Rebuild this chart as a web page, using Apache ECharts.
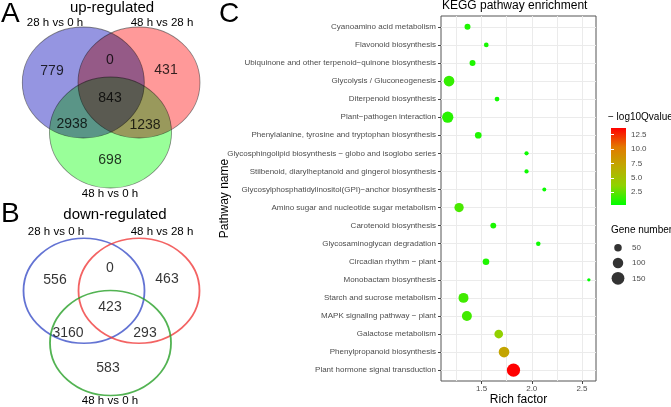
<!DOCTYPE html>
<html><head><meta charset="utf-8">
<script src="https://cdn.jsdelivr.net/npm/echarts@6/dist/echarts.min.js"></script>
<style>html,body{margin:0;padding:0;background:#fff}#c{width:671px;height:407px}</style>
</head><body><div id="c"></div>
<script>
// ---------------- Venn data ----------------
const vennSetNames = ['28 h vs 0 h', '48 h vs 28 h', '48 h vs 0 h'];
// region order: only A, only B, A∩B, A∩B∩C, A∩C, B∩C, only C
const upCounts   = [779, 431, 0, 843, 2938, 1238, 698];
const downCounts = [556, 463, 0, 423, 3160, 293, 583];

// ---------------- KEGG data ----------------
const pathways = [
  'Cyanoamino acid metabolism',
  'Flavonoid biosynthesis',
  'Ubiquinone and other terpenoid\u2212quinone biosynthesis',
  'Glycolysis / Gluconeogenesis',
  'Diterpenoid biosynthesis',
  'Plant\u2212pathogen interaction',
  'Phenylalanine, tyrosine and tryptophan biosynthesis',
  'Glycosphingolipid biosynthesis \u2212 globo and isoglobo series',
  'Stilbenoid, diarylheptanoid and gingerol biosynthesis',
  'Glycosylphosphatidylinositol(GPI)\u2212anchor biosynthesis',
  'Amino sugar and nucleotide sugar metabolism',
  'Carotenoid biosynthesis',
  'Glycosaminoglycan degradation',
  'Circadian rhythm \u2212 plant',
  'Monobactam biosynthesis',
  'Starch and sucrose metabolism',
  'MAPK signaling pathway \u2212 plant',
  'Galactose metabolism',
  'Phenylpropanoid biosynthesis',
  'Plant hormone signal transduction'
];
const richFactor = [1.36, 1.547, 1.41, 1.176, 1.654, 1.163, 1.467, 1.948, 1.948, 2.125,
                    1.276, 1.617, 2.065, 1.544, 2.569, 1.32, 1.354, 1.671, 1.724, 1.818];
const geneNumber = [31, 19, 31, 104, 19, 116, 39, 15, 15, 13,
                    78, 30, 17, 39, 9, 90, 90, 68, 104, 160];
const negLog10Q  = [1.0, 0.8, 1.0, 1.5, 0.7, 1.2, 1.0, 0.6, 0.6, 0.5,
                    2.0, 0.9, 0.6, 1.0, 0.3, 1.8, 1.8, 3.8, 7.3, 13.6];
const xTickLabels = [1.5, 2.0, 2.5];
const xGridValues = [1.25, 1.5, 1.75, 2.0, 2.25, 2.5];
const colorTicks = [2.5, 5.0, 7.5, 10.0, 12.5];
const sizeBreaks = [50, 100, 150];

// ---------------- layout / style ----------------
const FONT = 'Liberation Sans, Arial, Helvetica, sans-serif';
const ellipsePath = 'path://M50,0C77.614,0,100,22.386,100,50C100,77.614,77.614,100,50,100C22.386,100,0,77.614,0,50C0,22.386,22.386,0,50,0Z';
const vennCentersA = [[83.3, 82.5], [139, 82.5], [110.5, 132.5]];
const vennCentersB = [[84, 90.8], [139, 90.8], [110.5, 143]];
const vennLabelPosA = [[52, 71], [166, 70], [110, 60], [110, 98], [72, 124], [145, 125], [110, 160]];
const vennLabelPosB = [[55, 80], [167, 79], [110, 68], [110, 107], [68, 133], [145, 133], [108, 168]];
const fillsA = ['#7a7ad9', '#ff8080', '#80ff80'];
const strokesB = ['#3c50c8', '#f03c3c', '#28a028'];
const gradColors = ['#00ff00', '#8fd300', '#bfa900', '#e27a00', '#ff0000'];
const qMin = 0.3, qMax = 13.6;
const sizeOf = g => 0.3 + 1.02 * Math.sqrt(g);
const nRows = pathways.length;

const chart = echarts.init(document.getElementById('c'), null, {renderer: 'canvas'});

const hiddenAxis = (gi, min, max, inverse) => ({
  type: 'value', gridIndex: gi, min, max, inverse: !!inverse, show: false
});

const option = {
  backgroundColor: '#ffffff',
  animation: false,
  textStyle: {fontFamily: FONT},
  grid: [
    {left: 0, top: 0, width: 220, height: 200, show: false, outerBoundsMode: 'none'},          // 0 venn A
    {left: 0, top: 200, width: 220, height: 207, show: false, outerBoundsMode: 'none'},        // 1 venn B
    {left: 441, top: 16, width: 155, height: 365, show: true, outerBoundsMode: 'none', containLabel: false, // 2 KEGG
     borderColor: '#555555', borderWidth: 1, backgroundColor: '#ffffff'},
    {left: 611, top: 128, width: 15, height: 77, show: true, borderWidth: 0, outerBoundsMode: 'none', // 3 colorbar
     backgroundColor: {type: 'linear', x: 0, y: 1, x2: 0, y2: 0,
       colorStops: gradColors.map((c, i) => ({offset: i / (gradColors.length - 1), color: c}))}},
    {left: 608, top: 240, width: 20, height: 46, show: false, outerBoundsMode: 'none'}          // 4 size legend
  ],
  xAxis: [
    hiddenAxis(0, 0, 220),
    hiddenAxis(1, 0, 220),
    {type: 'value', gridIndex: 2, min: 1.096, max: 2.64,
     axisLine: {show: false}, splitLine: {show: false},
     axisTick: {show: true, customValues: xTickLabels, length: 3, lineStyle: {color: '#444'}},
     axisLabel: {customValues: xTickLabels, formatter: v => Number(v).toFixed(1),
                 fontSize: 8, color: '#4d4d4d', margin: 4, fontFamily: FONT},
     name: 'Rich factor', nameLocation: 'middle', nameGap: 13, nameMoveOverlap: false,
     nameTextStyle: {fontSize: 12, color: '#000', fontFamily: FONT}},
    hiddenAxis(3, 0, 1),
    hiddenAxis(4, 0, 1)
  ],
  yAxis: [
    hiddenAxis(0, 0, 200, true),
    hiddenAxis(1, 0, 207, true),
    {type: 'value', gridIndex: 2, min: 0.4, max: nRows + 0.6,
     axisLine: {show: false}, splitLine: {show: false},
     axisTick: {show: true, customValues: pathways.map((p, i) => i + 1), length: 3, lineStyle: {color: '#444'}},
     axisLabel: {customValues: pathways.map((p, i) => i + 1),
                 formatter: v => pathways[nRows - Math.round(v)],
                 fontSize: 8, color: '#4d4d4d', margin: 5, fontFamily: FONT},
     name: 'Pathway name', nameLocation: 'middle', nameGap: 210, nameRotate: 90, nameMoveOverlap: false,
     nameTextStyle: {fontSize: 12, color: '#000', fontFamily: FONT}},
    {type: 'value', gridIndex: 3, min: qMin, max: qMax, position: 'right',
     axisLine: {show: false}, splitLine: {show: false},
     axisTick: {show: true, inside: true, customValues: colorTicks, length: 3, lineStyle: {color: '#ffffff', width: 1}},
     axisLabel: {customValues: colorTicks, formatter: v => Number(v).toFixed(1),
                 fontSize: 8, color: '#4d4d4d', margin: 5, fontFamily: FONT}},
    {type: 'value', gridIndex: 3, min: qMin, max: qMax, position: 'left',
     axisLine: {show: false}, splitLine: {show: false},
     axisTick: {show: true, inside: true, customValues: colorTicks, length: 3, lineStyle: {color: '#ffffff', width: 1}},
     axisLabel: {show: false}},
    {type: 'category', gridIndex: 4, data: sizeBreaks.map(String), inverse: true, position: 'right',
     axisLine: {show: false}, axisTick: {show: false}, splitLine: {show: false},
     axisLabel: {fontSize: 8, color: '#4d4d4d', margin: 4, fontFamily: FONT}}
  ],
  visualMap: [{
    type: 'continuous', show: false, seriesIndex: 5, dimension: 2,
    min: qMin, max: qMax, inRange: {color: gradColors}
  }],
  series: [
    // 0: Venn A filled ellipses (multiply blend)
    {type: 'scatter', xAxisIndex: 0, yAxisIndex: 0, silent: true, blendMode: 'multiply',
     symbol: ellipsePath, symbolSize: [122, 111],
     data: vennCentersA.map((c, i) => ({value: c, itemStyle: {color: fillsA[i],
        borderColor: 'rgba(50,50,50,0.7)', borderWidth: 0.8}}))},
    // 1: Venn A counts
    {type: 'scatter', xAxisIndex: 0, yAxisIndex: 0, silent: true, symbolSize: 1,
     itemStyle: {color: 'transparent'},
     label: {show: true, position: 'inside', fontSize: 14, color: '#000', fontFamily: FONT,
             formatter: p => String(p.value[2])},
     data: vennLabelPosA.map((pos, i) => [pos[0], pos[1], upCounts[i]])},
    // 2: Venn B outlined ellipses
    {type: 'scatter', xAxisIndex: 1, yAxisIndex: 1, silent: true,
     symbol: ellipsePath, symbolSize: [121, 105],
     data: vennCentersB.map((c, i) => ({value: c, itemStyle: {color: 'rgba(0,0,0,0)',
        borderColor: strokesB[i], borderWidth: 1.7}}))},
    // 3: Venn B counts
    {type: 'scatter', xAxisIndex: 1, yAxisIndex: 1, silent: true, symbolSize: 1,
     itemStyle: {color: 'transparent'},
     label: {show: true, position: 'inside', fontSize: 14, color: '#000', fontFamily: FONT,
             formatter: p => String(p.value[2])},
     data: vennLabelPosB.map((pos, i) => [pos[0], pos[1], downCounts[i]])},
    // 4: KEGG grid lines
    {type: 'scatter', xAxisIndex: 2, yAxisIndex: 2, silent: true, z: 1, data: [],
     markLine: {silent: true, z: 1, symbol: ['none', 'none'], label: {show: false},
       lineStyle: {color: '#ebebeb', width: 1, type: 'solid'},
       data: xGridValues.map(v => ({xAxis: v})).concat(pathways.map((p, i) => ({yAxis: i + 1})))}},
    // 5: KEGG bubbles
    {type: 'scatter', xAxisIndex: 2, yAxisIndex: 2, silent: true, z: 10,
     symbolSize: v => sizeOf(v[3]),
     itemStyle: {opacity: 1},
     data: pathways.map((p, i) => [richFactor[i], nRows - i, negLog10Q[i], geneNumber[i]])},
    // 6: size legend
    {type: 'scatter', xAxisIndex: 4, yAxisIndex: 5, silent: true,
     symbolSize: v => sizeOf(v[2]), itemStyle: {color: '#000'},
     data: sizeBreaks.map(b => [0.5, String(b), b])}
  ],
  graphic: [
    {type: 'text', left: 1, top: 0, style: {text: 'A', fontSize: 28, fontFamily: FONT, fill: '#000'}},
    {type: 'text', x: 112, y: 8, style: {text: 'up-regulated', fontSize: 15, fontFamily: FONT, fill: '#000', align: 'center', verticalAlign: 'middle'}},
    {type: 'text', x: 55, y: 23, style: {text: vennSetNames[0], fontSize: 11.5, fontFamily: FONT, fill: '#000', align: 'center', verticalAlign: 'middle'}},
    {type: 'text', x: 162, y: 23, style: {text: vennSetNames[1], fontSize: 11.5, fontFamily: FONT, fill: '#000', align: 'center', verticalAlign: 'middle'}},
    {type: 'text', x: 110, y: 194, style: {text: vennSetNames[2], fontSize: 11.5, fontFamily: FONT, fill: '#000', align: 'center', verticalAlign: 'middle'}},
    {type: 'text', left: 1, top: 200, style: {text: 'B', fontSize: 28, fontFamily: FONT, fill: '#000'}},
    {type: 'text', x: 115, y: 215, style: {text: 'down-regulated', fontSize: 15, fontFamily: FONT, fill: '#000', align: 'center', verticalAlign: 'middle'}},
    {type: 'text', x: 56, y: 232, style: {text: vennSetNames[0], fontSize: 11.5, fontFamily: FONT, fill: '#000', align: 'center', verticalAlign: 'middle'}},
    {type: 'text', x: 162, y: 232, style: {text: vennSetNames[1], fontSize: 11.5, fontFamily: FONT, fill: '#000', align: 'center', verticalAlign: 'middle'}},
    {type: 'text', x: 110, y: 401, style: {text: vennSetNames[2], fontSize: 11.5, fontFamily: FONT, fill: '#000', align: 'center', verticalAlign: 'middle'}},
    {type: 'text', left: 219, top: 0, style: {text: 'C', fontSize: 28, fontFamily: FONT, fill: '#000'}},
    {type: 'text', x: 442, y: 6, style: {text: 'KEGG pathway enrichment', fontSize: 12, fontFamily: FONT, fill: '#000', verticalAlign: 'middle'}},
    {type: 'text', x: 608, y: 117, style: {text: '\u2212 log10Qvalue', fontSize: 10, fontFamily: FONT, fill: '#000', verticalAlign: 'middle'}},
    {type: 'text', x: 611, y: 230, style: {text: 'Gene number', fontSize: 10, fontFamily: FONT, fill: '#000', verticalAlign: 'middle'}}
  ]
};
chart.setOption(option);
</script>
</body></html>
